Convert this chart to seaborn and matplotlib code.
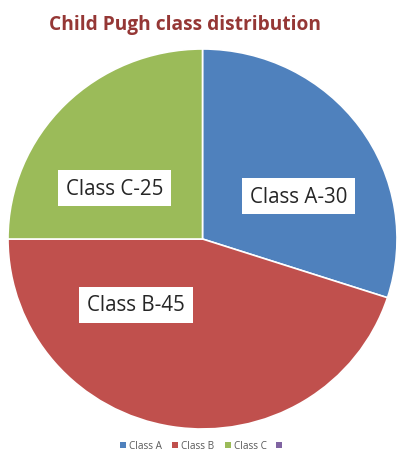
import matplotlib
matplotlib.use("Agg")
import matplotlib.pyplot as plt
import seaborn as sns
from matplotlib.patches import Patch

sns.set_theme(style="white")
plt.rcParams['font.family'] = ['Open Sans', 'DejaVu Sans']

categories = ["Class A", "Class B", "Class C"]
values = [30, 45, 25]
label_texts = ["Class A-30", "Class B-45", "Class C-25"]
colors = ["#4F81BD", "#C0504D", "#9BBB59"]
extra_legend_color = "#8064A2"

fig = plt.figure(figsize=(3.98, 4.64), dpi=100)
ax = fig.add_axes([8/398, 34/464, 389/398, 380/464])
wedges, _ = ax.pie(values, colors=colors, startangle=90, counterclock=False,
                   wedgeprops=dict(edgecolor="white", linewidth=1.2), radius=1)
ax.set_aspect('auto')
ax.set_xlim(-1, 1)
ax.set_ylim(-1, 1)
ax.axis('off')

label_pos = [(0.496, 0.226), (-0.342, -0.347), (-0.452, 0.268)]
for (x, y), t in zip(label_pos, label_texts):
    ax.text(x, y, t, ha='center', va='center', fontsize=14.8, color='#262626',
            bbox=dict(boxstyle='square,pad=0.38', facecolor='white', edgecolor='none'))

fig.text(0.465, 0.946, "Child Pugh class distribution", ha='center', va='center',
         fontsize=13.8, fontweight='bold', color='#953735')

handles = [Patch(facecolor=c, edgecolor='none') for c in colors + [extra_legend_color]]
leg = fig.legend(handles, categories + [""], loc='center', bbox_to_anchor=(0.51, 0.037),
                 ncol=4, frameon=False, fontsize=7.2, handlelength=0.6, handleheight=0.6,
                 handletextpad=0.3, columnspacing=1.0, labelcolor='#595959')

fig.savefig("out.png", dpi=100)
